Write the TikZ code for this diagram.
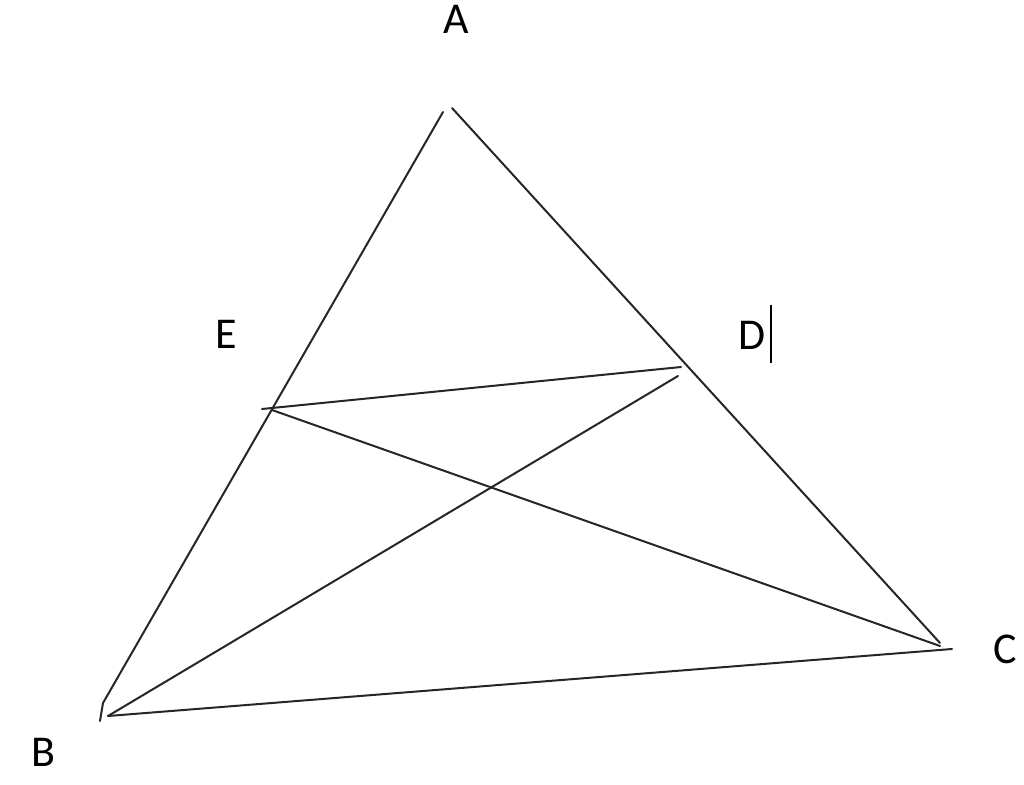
\documentclass[tikz,border=0pt]{standalone}
\usepackage{fontspec}
\setmainfont{Carlito}
\begin{document}
\begin{tikzpicture}[x=1pt,y=-1pt,
  seg/.style={draw=black!85,line width=2pt,line cap=round},
  lbl/.style={font=\fontsize{44}{44}\selectfont,text=black,inner sep=0pt}]
\useasboundingbox (0,0) rectangle (1024,784);
% vertices of the sketch
\coordinate (Aleft) at (443,112);
\coordinate (Aright) at (452,108);
\coordinate (Bhook) at (103,703);
\coordinate (Btip) at (100,721);
\coordinate (B) at (108,716);
\coordinate (C) at (952,649);
\coordinate (Cside) at (940,643);
\coordinate (Ctip) at (940,646);
\coordinate (E) at (262,409);
\coordinate (Ex) at (272,410);
\coordinate (D) at (681,367);
\coordinate (Dlow) at (678,376);
\coordinate (curT) at (771,305);
\coordinate (curB) at (771,363);
% sides
\draw[seg] (Aleft) -- (Bhook) -- (Btip);
\draw[seg] (Aright) -- (Cside);
\draw[seg] (B) -- (C);
% inner segments
\draw[seg] (E) -- (D);
\draw[seg] (Ex) -- (Ctip);
\draw[seg] (B) -- (Dlow);
% text cursor after D
\draw[black,line width=1.6pt] (curT) -- (curB);
% labels
\node[lbl] (lA) at (456,19) {A};
\node[lbl] (lE) at (226,334) {E};
\node[lbl] (lD) at (752,335) {D};
\node[lbl] (lC) at (1005,649) {C};
\node[lbl] (lB) at (43,752) {B};
\end{tikzpicture}
\end{document}
